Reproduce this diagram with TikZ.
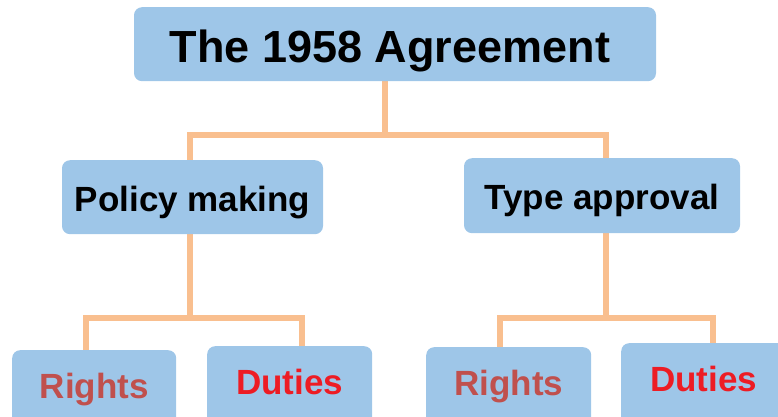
\documentclass[tikz,border=0pt]{standalone}
\usepackage{fontspec}
\setmainfont{Liberation Sans}
\usetikzlibrary{backgrounds}
\definecolor{boxblue}{RGB}{158,198,232}
\definecolor{conncol}{RGB}{249,191,143}
\definecolor{rightscol}{RGB}{192,80,77}
\definecolor{dutiescol}{RGB}{237,28,36}
\tikzset{
  box/.style={fill=boxblue, rounded corners=8pt, inner sep=0pt, anchor=north, font=\bfseries\fontsize{35}{40}\selectfont},
  topbox/.style={box, font=\bfseries\fontsize{45}{52}\selectfont},
  btm/.style={box, anchor=north west, text height=48pt, text depth=40pt},
  conn/.style={draw=conncol, line width=6pt, line join=miter}
}
\begin{document}
\begin{tikzpicture}[x=1pt,y=-1pt]
\useasboundingbox (0,0) rectangle (778,417);
\clip (0,0) rectangle (778,417);
\node[topbox, minimum width=522pt, text height=55pt, text depth=19pt] (top) at (395,7) {The 1958 Agreement\kern10pt};
\node[box, minimum width=261pt, text height=51pt, text depth=23pt] (policy) at (192.5,160) {Policy making};
\node[box, minimum width=276pt, text height=51pt, text depth=24pt] (type) at (602,158) {Type approval};
\node[btm, minimum width=164pt, text=rightscol] (r1) at (12,350) {Rights};
\node[btm, minimum width=165pt, text=dutiescol] (d1) at (207,346) {Duties};
\node[btm, minimum width=165pt, text=rightscol] (r2) at (426,347) {Rights};
\node[btm, minimum width=165pt, text=dutiescol] (d2) at (621,343) {Duties};
\coordinate (j1) at (385,135);
\coordinate (j2) at (190,318);
\coordinate (j3) at (606,318);
\begin{scope}[on background layer]
\draw[conn] (top.south -| j1) -- (j1);
\draw[conn] ([xshift=-2.5pt]policy.north) |- (j1) -| ([xshift=4pt]type.north);
\draw[conn] (policy.south -| j2) -- (j2);
\draw[conn] ([xshift=-8pt]r1.north) |- (j2) -| ([xshift=12.5pt]d1.north);
\draw[conn] (type.south -| j3) -- (j3);
\draw[conn] ([xshift=-8.5pt]r2.north) |- (j3) -| ([xshift=9.5pt]d2.north);
\end{scope}
\end{tikzpicture}
\end{document}
